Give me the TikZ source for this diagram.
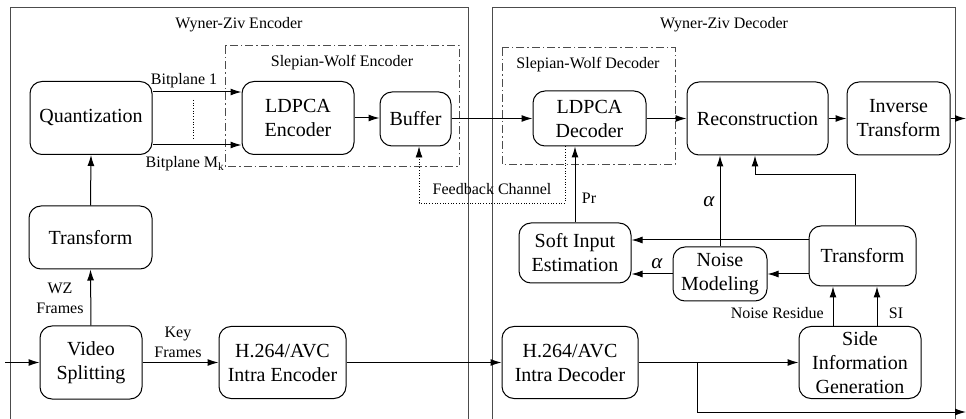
\documentclass[tikz,border=0pt]{standalone}
\usepackage{fontspec}
\setmainfont{Liberation Serif}
\usetikzlibrary{arrows.meta,calc}
\begin{document}
\begin{tikzpicture}[x=1pt,y=-1pt,
  blk/.style={draw, line width=1pt, rounded corners=12pt, align=center, inner sep=0pt,
    font=\fontsize{20}{24}\selectfont},
  lbl/.style={font=\fontsize{16}{20}\selectfont, align=center, inner sep=0pt},
  alp/.style={font=\fontsize{21}{24}\selectfont\itshape, inner sep=0pt},
  arr/.style={line width=1pt, -{Latex[length=11pt,width=7pt]}},
  frame/.style={line width=1pt, draw=black!70},
  swbox/.style={line width=1pt, draw=black!70, dash pattern=on 8pt off 3pt on 1.5pt off 3pt},
  fb/.style={line width=0.7pt, dotted}
]
\useasboundingbox (0,0) rectangle (966,419);
% outer frames
\draw[frame] (10,425) -- (10,8) -- (468,8) -- (468,425);
\draw[frame] (492,425) -- (492,8) -- (955,8) -- (955,425);
\node[lbl] (tenc) at (239,25) {Wyner-Ziv Encoder};
\node[lbl] (tdec) at (724,25) {Wyner-Ziv Decoder};
% Slepian-Wolf boxes
\draw[swbox] (225,46) rectangle (459,167);
\node[lbl] (tswe) at (342,63) {Slepian-Wolf Encoder};
\draw[swbox] (502,48) rectangle (675,165);
\node[lbl] (tswd) at (588,65) {Slepian-Wolf Decoder};
% encoder blocks
\node[blk, minimum width=122pt, minimum height=73pt] (quant) at (91,118) {Quantization};
\node[blk, minimum width=112pt, minimum height=73pt] (ldpcaE) at (298,118) {LDPCA\\Encoder};
\node[blk, minimum width=71pt, minimum height=54pt] (buffer) at (415.5,119) {Buffer};
\node[blk, minimum width=123pt, minimum height=63pt] (transE) at (90.5,237.5) {Transform};
\node[blk, minimum width=102pt, minimum height=73pt] (vsplit) at (91,362.5) {Video\\Splitting};
\node[blk, minimum width=127pt, minimum height=72pt] (intraE) at (282.5,362.5) {H.264/AVC\\Intra Encoder};
% decoder blocks
\node[blk, minimum width=113pt, minimum height=55pt] (ldpcaD) at (589.5,118.5) {LDPCA\\Decoder};
\node[blk, minimum width=141pt, minimum height=73pt] (recon) at (757.5,118.5) {Reconstruction};
\node[blk, minimum width=103pt, minimum height=73pt] (invT) at (898.5,118.5) {Inverse\\Transform};
\node[blk, minimum width=112pt, minimum height=60pt] (soft) at (575,253) {Soft Input\\Estimation};
\node[blk, minimum width=94pt, minimum height=54pt] (noise) at (720,274) {Noise\\Modeling};
\node[blk, minimum width=107pt, minimum height=60pt] (transD) at (862.5,256) {Transform};
\node[blk, minimum width=122pt, minimum height=72pt] (sig) at (860,362.5) {Side\\Information\\Generation};
\node[blk, minimum width=136pt, minimum height=72pt] (intraD) at (570,362.5) {H.264/AVC\\Intra Decoder};
% coordinates
\coordinate (in) at (5,362.5);
\coordinate (bp1) at (0,92);
\coordinate (bpm) at (0,145);
\coordinate (fbr) at (565,203);
\coordinate (fbl) at (419,203);
\coordinate (outT) at (966,118.5);
\coordinate (br) at (697,362.5);
\coordinate (brd) at (697,412);
\coordinate (outB) at (966,412);
\coordinate (tr1) at (855,175);
\coordinate (tr2) at (755,175);
\coordinate (y240) at (0,240);
\coordinate (y274) at (0,274);
\coordinate (nrx) at (833,0);
\coordinate (six) at (877,0);
\coordinate (dtop) at (193,100);
\coordinate (dbot) at (193,138);
% encoder connectors
\draw[arr] (in) -- (vsplit.west);
\draw[arr] (vsplit.east) -- (intraE.west);
\node[lbl] (kf) at (178,342) {Key\\Frames};
\draw[arr] (vsplit.north) -- (transE.south);
\node[lbl] (wz) at (60,298) {WZ\\Frames};
\draw[arr] (transE.north) -- (quant.south);
\draw[arr] (quant.east |- bp1) -- (ldpcaE.west |- bp1);
\draw[arr] (quant.east |- bpm) -- (ldpcaE.west |- bpm);
\node[lbl] (lbp1) at (184,81) {Bitplane 1};
\node[lbl] (lbpm) at (185,164) {Bitplane M\textsubscript{k}};
\draw[fb] (dtop) -- (dbot);
\draw[arr] (ldpcaE.east) -- (buffer.west |- ldpcaE.east);
\draw[arr] (buffer.east |- ldpcaD.west) -- (ldpcaD.west);
% feedback channel
\draw[fb, -{Latex[length=11pt,width=7pt]}] (ldpcaD.south -| fbr) -- (fbr) -- (fbl) -- (buffer.south -| fbl);
\node[lbl] (lfb) at (492,189) {Feedback Channel};
% decoder connectors
\draw[arr] (ldpcaD.east) -- (recon.west);
\draw[arr] (recon.east) -- (invT.west);
\draw[arr] (invT.east) -- (outT);
\draw[arr] (soft.north) -- (soft.north |- ldpcaD.south);
\node[lbl] (lpr) at (589,198) {Pr};
\draw[arr] (noise.north) -- (noise.north |- recon.south);
\node[alp] (la1) at (709,202) {α};
\draw[arr] (transD.north -| tr1) -- (tr1) -- (tr2) -- (recon.south -| tr2);
\draw[arr] (transD.west |- y240) -- (soft.east |- y240);
\draw[arr] (transD.west |- y274) -- (noise.east |- y274);
\draw[arr] (noise.west |- y274) -- (soft.east |- y274);
\node[alp] (la2) at (657,264) {α};
\draw[arr] (sig.north -| nrx) -- (transD.south -| nrx);
\draw[arr] (sig.north -| six) -- (transD.south -| six);
\node[lbl, anchor=east] (lnr) at (824,313) {Noise Residue};
\node[lbl] (lsi) at (896,313) {SI};
\draw[arr] (intraE.east) -- (intraD.west);
\draw[arr] (intraD.east) -- (sig.west);
\draw[arr] (br) -- (brd) -- (outB);
\end{tikzpicture}
\end{document}
